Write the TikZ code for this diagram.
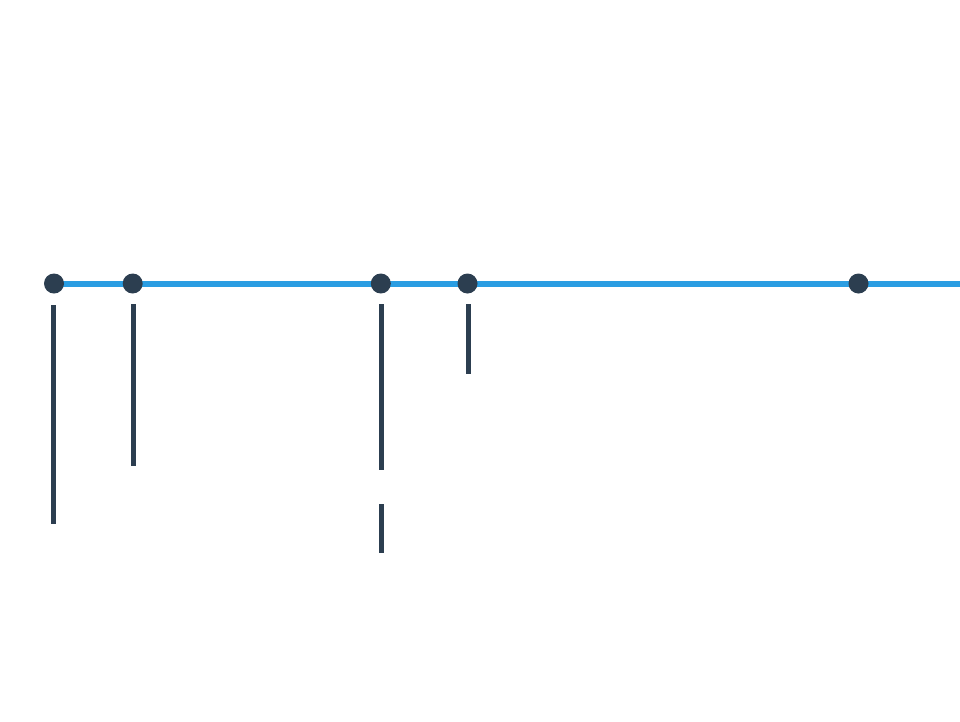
\documentclass[tikz,border=0pt]{standalone}
\definecolor{axisblue}{HTML}{2A9DE2}
\definecolor{darkslate}{HTML}{2C3E50}
\begin{document}
\begin{tikzpicture}[x=1pt,y=-1pt,
  dotnode/.style={circle,fill=darkslate,draw=none,minimum size=20pt,inner sep=0pt},
  barline/.style={draw=darkslate,line width=5pt},
  axisline/.style={draw=axisblue,line width=6pt}]
\useasboundingbox[fill=white] (0,0) rectangle (960,721);
\coordinate (start) at (54,283.5);
\coordinate (end) at (960,283.5);
\draw[axisline] (start) -- (end);
\node[dotnode] (d1) at (54,283.5) {};
\node[dotnode] (d2) at (132.7,283.5) {};
\node[dotnode] (d3) at (380.8,283.5) {};
\node[dotnode] (d4) at (467.5,283.5) {};
\node[dotnode] (d5) at (858.5,283.5) {};
\coordinate (b1t) at (53.5,305); \coordinate (b1b) at (53.5,524);
\coordinate (b2t) at (133.5,304); \coordinate (b2b) at (133.5,466);
\coordinate (b3t) at (381.5,304); \coordinate (b3b) at (381.5,470);
\coordinate (b3ct) at (381.5,504); \coordinate (b3cb) at (381.5,553);
\coordinate (b4t) at (468.5,304); \coordinate (b4b) at (468.5,374);
\draw[barline] (b1t) -- (b1b);
\draw[barline] (b2t) -- (b2b);
\draw[barline] (b3t) -- (b3b);
\draw[barline] (b3ct) -- (b3cb);
\draw[barline] (b4t) -- (b4b);
\end{tikzpicture}
\end{document}
